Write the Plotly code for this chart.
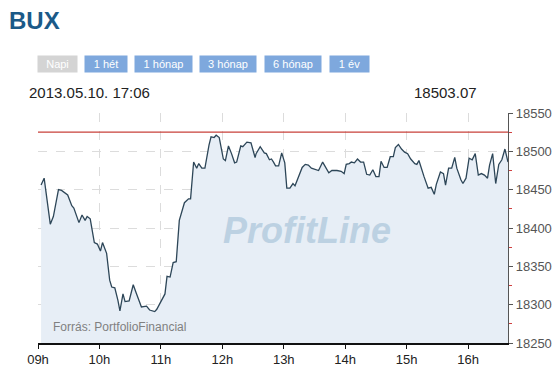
import plotly.graph_objects as go
import pandas as pd

session_date = "2013-05-10"
times = ["09:03","09:06","09:12","09:15","09:20","09:23","09:29","09:33","09:35","09:38",
         "09:40","09:43","09:46","09:48","09:51","09:55","09:58","10:01","10:03","10:07",
         "10:10","10:12","10:15","10:18","10:20","10:23","10:25","10:29","10:33","10:36",
         "10:41","10:46","10:49","10:54","10:56","11:04","11:06","11:09","11:12","11:15",
         "11:18","11:23","11:27","11:29","11:32","11:35","11:37","11:40","11:43","11:47",
         "11:49","11:52","11:54","11:57","12:01","12:03","12:06","12:09","12:12","12:14",
         "12:18","12:20","12:24","12:28","12:32","12:33","12:37","12:41","12:43","12:46",
         "12:48","12:50","12:52","12:55","12:58","13:01","13:03","13:06","13:09","13:11",
         "13:14","13:18","13:21","13:24","13:27","13:30","13:34","13:38","13:41","13:44",
         "13:47","13:52","13:56","13:59","14:01","14:04","14:06","14:09","14:12","14:15",
         "14:18","14:21","14:24","14:27","14:30","14:33","14:35","14:38","14:41","14:44",
         "14:47","14:49","14:52","14:55","14:58","15:01","15:04","15:08","15:10","15:12",
         "15:17","15:21","15:24","15:27","15:29","15:33","15:36","15:38","15:41","15:44",
         "15:47","15:49","15:53","15:55","15:58","16:01","16:04","16:07","16:10","16:13",
         "16:16","16:19","16:21","16:24","16:27","16:30","16:33","16:36","16:39"]
values = [18456,18465,18405,18415,18450,18449,18443,18429,18426,18413,
          18407,18417,18410,18415,18412,18381,18379,18370,18381,18367,
          18332,18323,18322,18306,18292,18314,18304,18305,18326,18315,
          18297,18298,18293,18291,18294,18314,18337,18336,18355,18356,
          18410,18433,18438,18438,18486,18478,18484,18478,18478,18508,
          18519,18518,18521,18518,18490,18488,18507,18497,18485,18486,
          18507,18506,18512,18511,18492,18497,18506,18498,18497,18489,
          18490,18486,18481,18481,18498,18485,18452,18452,18458,18455,
          18465,18479,18483,18482,18478,18477,18475,18486,18479,18472,
          18475,18475,18474,18471,18483,18484,18486,18485,18490,18486,
          18486,18470,18469,18476,18467,18467,18487,18479,18479,18493,
          18493,18505,18509,18503,18499,18497,18490,18484,18483,18488,
          18467,18452,18453,18444,18457,18473,18471,18456,18478,18478,
          18492,18478,18463,18458,18465,18491,18489,18497,18469,18471,
          18469,18465,18482,18497,18458,18483,18489,18503,18486]
prev_close = 18525
y_ticks = [18250, 18300, 18350, 18400, 18450, 18500, 18550]
buttons = ["Napi", "1 hét", "1 hónap", "3 hónap", "6 hónap", "1 év"]
stamp = "2013.05.10. 17:06"
last_value = "18503.07"

x = pd.to_datetime([f"{session_date} {t}" for t in times])

W, H = 553, 373
ML, MR, MT, MB = 38, 45, 113, 30
PW, PH = W - ML - MR, H - MT - MB

fig = go.Figure()
fig.add_trace(go.Scatter(
    x=x, y=values, mode="lines",
    line=dict(color="#2d4658", width=1.3),
    fill="tozeroy", fillcolor="#e7eef6",
    hoverinfo="skip", showlegend=False))
fig.add_hline(y=prev_close, line=dict(color="#c8413a", width=1.3), layer="above")

fig.update_layout(
    width=W, height=H,
    margin=dict(l=ML, r=MR, t=MT, b=MB, autoexpand=False),
    paper_bgcolor="white", plot_bgcolor="white",
    font=dict(family="Liberation Sans, Arial, sans-serif"),
    xaxis=dict(
        type="date", automargin=False,
        range=[f"{session_date} 09:00", f"{session_date} 16:39"],
        dtick=3600000, tick0=f"{session_date} 09:00", tickformat="%Hh",
        showline=True, linecolor="#111", linewidth=1.5,
        ticks="outside", ticklen=4, tickcolor="#111",
        tickfont=dict(size=13, color="#222"),
        showgrid=True, gridcolor="#dcdcdc", griddash="dash", gridwidth=1,
        zeroline=False),
    yaxis=dict(
        side="right", automargin=False, range=[18250, 18550], tickvals=y_ticks,
        ticktext=[str(v) for v in y_ticks],
        showline=True, linecolor="#555", linewidth=1.2,
        ticks="outside", ticklen=4, tickcolor="#555",
        tickfont=dict(size=13, color="#555"),
        showgrid=True, gridcolor="#dcdcdc", griddash="dash", gridwidth=1,
        minor=dict(dtick=25, ticks="outside", ticklen=3, tickcolor="#d04040", showgrid=False),
        zeroline=False),
)

def px(xp):
    return (xp - ML) / PW

def py(yp):
    return (H - yp - MB) / PH

ann = []
ann.append(dict(text="<b>BUX</b>", x=px(7), y=py(5), xanchor="left", yanchor="top",
                showarrow=False,
                font=dict(size=24, color="#1b5a88", family="Liberation Sans, Arial")))
btn_x = [37, 84, 134, 199, 264, 329]
btn_w = [39, 42, 57, 56, 56, 39]
for i, (b, bx, bw) in enumerate(zip(buttons, btn_x, btn_w)):
    ann.append(dict(text=b, x=px(bx), y=py(55), xanchor="left", yanchor="top",
                    showarrow=False, width=bw, height=16, borderpad=0,
                    bgcolor="#d4d4d4" if i == 0 else "#7ea8dd",
                    font=dict(size=11, color="white")))
ann.append(dict(text=stamp, x=px(27), y=py(82), xanchor="left", yanchor="top",
                showarrow=False, font=dict(size=15, color="#222")))
ann.append(dict(text=last_value, x=px(479), y=py(82), xanchor="right", yanchor="top",
                showarrow=False, font=dict(size=15, color="#222")))
ann.append(dict(text="<b><i>ProfitLine</i></b>", x=px(307), y=py(230),
                showarrow=False, font=dict(size=36, color="#bcd1e2",
                family="Liberation Sans, Arial")))
ann.append(dict(text="Forrás: PortfolioFinancial", x=px(51), y=py(336),
                xanchor="left", yanchor="bottom", showarrow=False,
                font=dict(size=12, color="#808080")))
for a in ann:
    a["xref"] = "paper"; a["yref"] = "paper"
fig.update_layout(annotations=ann)

fig.write_html("out.html", config={"displayModeBar": False},
               post_script="document.body.style.margin='0';document.body.style.overflow='hidden';")
